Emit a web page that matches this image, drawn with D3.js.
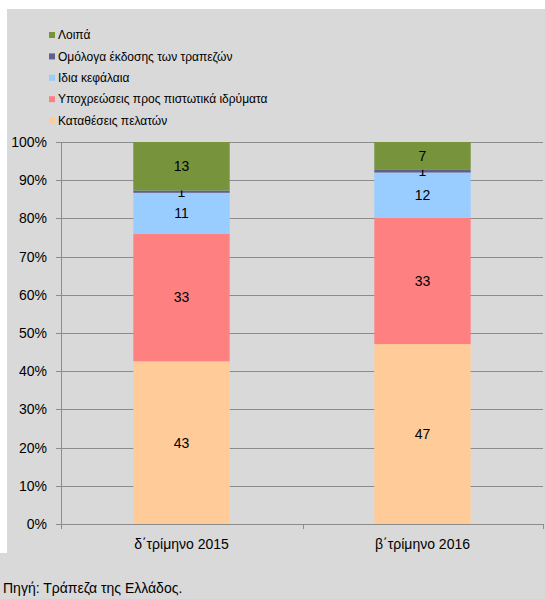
<!DOCTYPE html>
<html>
<head>
<meta charset="utf-8">
<script src="https://cdn.jsdelivr.net/npm/d3@7"></script>
<style>
  html, body { margin: 0; padding: 0; background: #fff; }
  svg { display: block; }
  text { font-family: "Liberation Sans", Arial, sans-serif; fill: #000; }
</style>
</head>
<body>
<div id="chart"></div>
<script>
(function() {
  'use strict';

  // categories along the x axis
  var categories = ['δ΄τρίμηνο 2015', 'β΄τρίμηνο 2016'];

  // series, bottom to top of the stack (percent of total)
  var seriesNames = [
    'Καταθέσεις πελατών',
    'Υποχρεώσεις προς πιστωτικά ιδρύματα',
    'Ιδια κεφάλαια',
    'Ομόλογα έκδοσης των τραπεζών',
    'Λοιπά'
  ];
  var deposits = [42.6, 47.1];
  var interbank = [33.4, 33.1];
  var equity = [10.7, 11.8];
  var bonds = [0.6, 0.7];
  var other = [12.7, 7.3];

  var seriesColors = ['#ffcc99', '#ff8080', '#99ccff', '#60608f', '#77933c'];
  var yTicks = [0, 0.1, 0.2, 0.3, 0.4, 0.5, 0.6, 0.7, 0.8, 0.9, 1];
  var source = 'Πηγή: Τράπεζα της Ελλάδος.';

  var width = 545, height = 599;
  var svg = d3.select('#chart').append('svg')
      .attr('width', width)
      .attr('height', height);

  // grey background with the white strips of the crop
  svg.append('rect')
      .attr('width', width).attr('height', height)
      .attr('fill', '#d9d9d9');
  svg.append('rect')
      .attr('width', width).attr('height', 9)
      .attr('fill', '#fff');
  svg.append('rect')
      .attr('width', 7).attr('height', 553)
      .attr('fill', '#fff');

  var allSeries = [deposits, interbank, equity, bonds, other];
  var table = categories.map(function(c, i) {
    var row = { category: c };
    seriesNames.forEach(function(s, j) { row[s] = allSeries[j][i]; });
    return row;
  });

  var stacked = d3.stack()
      .keys(seriesNames)
      .offset(d3.stackOffsetExpand)(table);

  var x = d3.scaleBand()
      .domain(categories)
      .range([61, 543])
      .paddingInner(0.6)
      .paddingOuter(0.3);

  var y = d3.scaleLinear()
      .domain([0, 1])
      .range([524, 142]);

  // gridlines
  svg.append('g')
      .selectAll('line')
      .data(yTicks)
      .enter()
      .append('line')
      .attr('x1', 56)
      .attr('x2', 543)
      .attr('y1', function(d) { return Math.round(y(d)) + 0.5; })
      .attr('y2', function(d) { return Math.round(y(d)) + 0.5; })
      .attr('stroke', '#8c8c8c')
      .attr('stroke-width', 1);

  // y axis labels
  svg.append('g')
      .selectAll('text')
      .data(yTicks)
      .enter()
      .append('text')
      .attr('x', 47)
      .attr('y', function(d) { return y(d); })
      .attr('dy', '0.35em')
      .attr('text-anchor', 'end')
      .style('font-size', '14px')
      .text(d3.format('.0%'));

  // y axis line
  svg.append('line')
      .attr('x1', 61.5).attr('x2', 61.5)
      .attr('y1', y(1)).attr('y2', y(0))
      .attr('stroke', '#8c8c8c');

  // category boundary ticks
  var step = x.step();
  var bounds = [61, 61 + step + 0.5, 543];
  svg.append('g')
      .selectAll('line')
      .data(bounds)
      .enter()
      .append('line')
      .attr('x1', function(d) { return Math.round(d) + 0.5; })
      .attr('x2', function(d) { return Math.round(d) + 0.5; })
      .attr('y1', y(0))
      .attr('y2', y(0) + 5)
      .attr('stroke', '#8c8c8c');

  // bars
  var layers = svg.append('g')
      .selectAll('g')
      .data(stacked)
      .enter()
      .append('g')
      .attr('fill', function(d, i) { return seriesColors[i]; });

  layers.selectAll('rect')
      .data(function(d) { return d; })
      .enter()
      .append('rect')
      .attr('x', function(d) { return x(d.data.category); })
      .attr('width', x.bandwidth())
      .attr('y', function(d) { return y(d[1]); })
      .attr('height', function(d) { return y(d[0]) - y(d[1]); });

  // data labels
  layers.selectAll('text')
      .data(function(d) {
        return d.map(function(p) { p.key = d.key; return p; });
      })
      .enter()
      .append('text')
      .attr('x', function(d) { return x(d.data.category) + x.bandwidth() / 2; })
      .attr('y', function(d) { return (y(d[0]) + y(d[1])) / 2; })
      .attr('dy', '0.35em')
      .attr('text-anchor', 'middle')
      .style('font-size', '14px')
      .style('fill', '#000')
      .text(function(d) { return Math.round(d.data[d.key]); });

  // category labels
  svg.append('g')
      .selectAll('text')
      .data(categories)
      .enter()
      .append('text')
      .attr('x', function(d) { return x(d) + x.bandwidth() / 2; })
      .attr('y', 544)
      .attr('dy', '0.35em')
      .attr('text-anchor', 'middle')
      .style('font-size', '14px')
      .text(function(d) { return d; });

  // legend, top entry is the top of the stack
  var legendOrder = seriesNames.slice().reverse();
  var legend = svg.append('g')
      .selectAll('g')
      .data(legendOrder)
      .enter()
      .append('g')
      .attr('transform', function(d, i) { return 'translate(49,' + (35 + i * 21.4) + ')'; });

  legend.append('rect')
      .attr('x', 0).attr('y', -3)
      .attr('width', 6).attr('height', 6)
      .attr('fill', function(d) { return seriesColors[seriesNames.indexOf(d)]; });

  legend.append('text')
      .attr('x', 9)
      .attr('dy', '0.35em')
      .style('font-size', '12px')
      .text(function(d) { return d; });

  // source note
  svg.append('text')
      .attr('x', 3)
      .attr('y', 588)
      .attr('dy', '0.35em')
      .style('font-size', '14px')
      .text(source);
})();
</script>
</body>
</html>
